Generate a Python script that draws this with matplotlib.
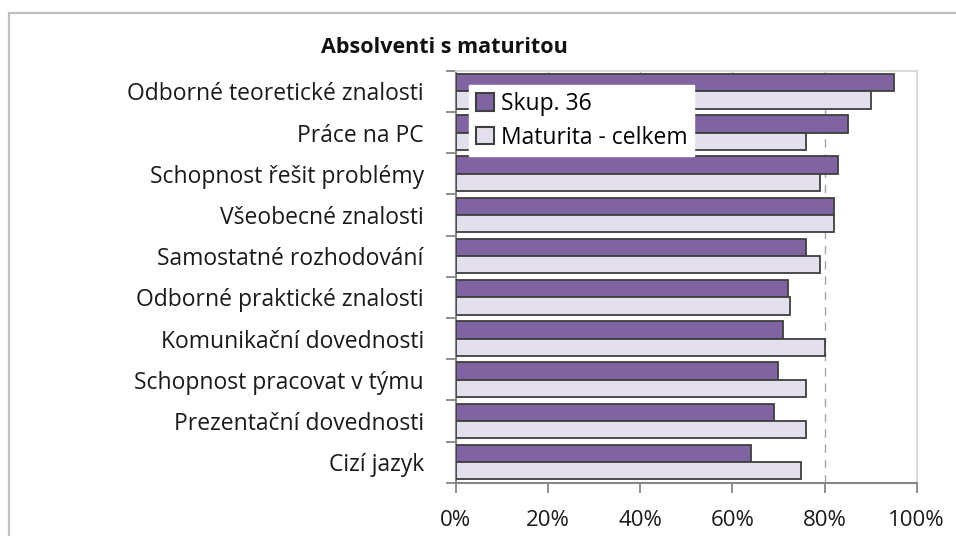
import numpy as np
import matplotlib
matplotlib.use("Agg")
import matplotlib.pyplot as plt
from matplotlib.patches import Rectangle
from matplotlib.ticker import FixedLocator, PercentFormatter

plt.rcParams["font.family"] = ["Open Sans", "DejaVu Sans"]

categories = [
    "Odborné teoretické znalosti",
    "Práce na PC",
    "Schopnost řešit problémy",
    "Všeobecné znalosti",
    "Samostatné rozhodování",
    "Odborné praktické znalosti",
    "Komunikační dovednosti",
    "Schopnost pracovat v týmu",
    "Prezentační dovednosti",
    "Cizí jazyk",
]
skup36 = [95, 85, 83, 82, 76, 72, 71, 70, 69, 64]
celkem = [90, 76, 79, 82, 79, 72.5, 80, 76, 76, 75]
series_names = ["Skup. 36", "Maturita - celkem"]
x_ticks = [0, 20, 40, 60, 80, 100]
reference_line = 80

PURPLE = "#8064A2"
LIGHT = "#E4DFEC"
EDGE = "#3F3F3F"
AXIS = "#868686"
FRAME = "#D9D9D9"

fig = plt.figure(figsize=(9.56, 5.36), dpi=100)
ax = fig.add_axes([0.4767, 0.0994, 0.4822, 0.7687])

# outer chart frame (only top and left visible in the crop)
fig.add_artist(Rectangle((9 / 956, -0.5), 2, 1.5 - 13 / 536,
                         transform=fig.transFigure, fill=False,
                         edgecolor="#BFBFBF", linewidth=1.6))

y = np.arange(len(categories))
h = 0.42
ax.barh(y - h / 2, skup36, height=h, color=PURPLE, edgecolor=EDGE,
        linewidth=1.3, label=series_names[0], zorder=3)
ax.barh(y + h / 2, celkem, height=h, color=LIGHT, edgecolor=EDGE,
        linewidth=1.3, label=series_names[1], zorder=3)

ax.axvline(reference_line, color="#A6A6A6", linestyle=(0, (6, 5)),
           linewidth=1.0, zorder=1)

ax.set_xlim(0, 100)
ax.set_ylim(len(categories) - 0.5, -0.5)

ax.set_yticks(y)
ax.set_yticklabels(categories)
ax.yaxis.set_minor_locator(FixedLocator(np.arange(-0.5, len(categories), 1)))
ax.tick_params(axis="y", which="major", length=0, pad=23, labelsize=16.5,
               labelcolor="#1a1a1a")
ax.tick_params(axis="y", which="minor", length=7, width=1.3, color=AXIS,
               direction="out")

ax.set_xticks(x_ticks)
ax.xaxis.set_major_formatter(PercentFormatter(decimals=0))
ax.tick_params(axis="x", length=7, width=1.3, color=AXIS, direction="out",
               labelsize=16, labelcolor="#1a1a1a", pad=13)

top = ax.secondary_xaxis("top")
top.set_xticks(x_ticks[1:-1])
top.tick_params(length=3, width=1.0, color="#BFBFBF", direction="in",
                labeltop=False)
top.spines["top"].set_visible(False)

for side in ["left", "bottom"]:
    ax.spines[side].set_color(AXIS)
    ax.spines[side].set_linewidth(1.5)
for side in ["top", "right"]:
    ax.spines[side].set_color(FRAME)
    ax.spines[side].set_linewidth(1.5)

fig.text(0.465, 0.912, "Absolventi s maturitou", ha="center", va="center",
         fontsize=15.5, fontweight="bold", color="#111111")

leg = ax.legend(loc="upper left", bbox_to_anchor=(0.028, 0.965),
                frameon=True, fancybox=False, framealpha=1,
                edgecolor="white", fontsize=16.5, handlelength=0.8,
                handleheight=0.8, handletextpad=0.3, borderpad=0.3,
                labelspacing=0.42, borderaxespad=0)
leg.set_zorder(5)
for patch in leg.get_patches():
    patch.set_edgecolor(EDGE)
    patch.set_linewidth(1.5)

fig.savefig("out.png", dpi=100)
